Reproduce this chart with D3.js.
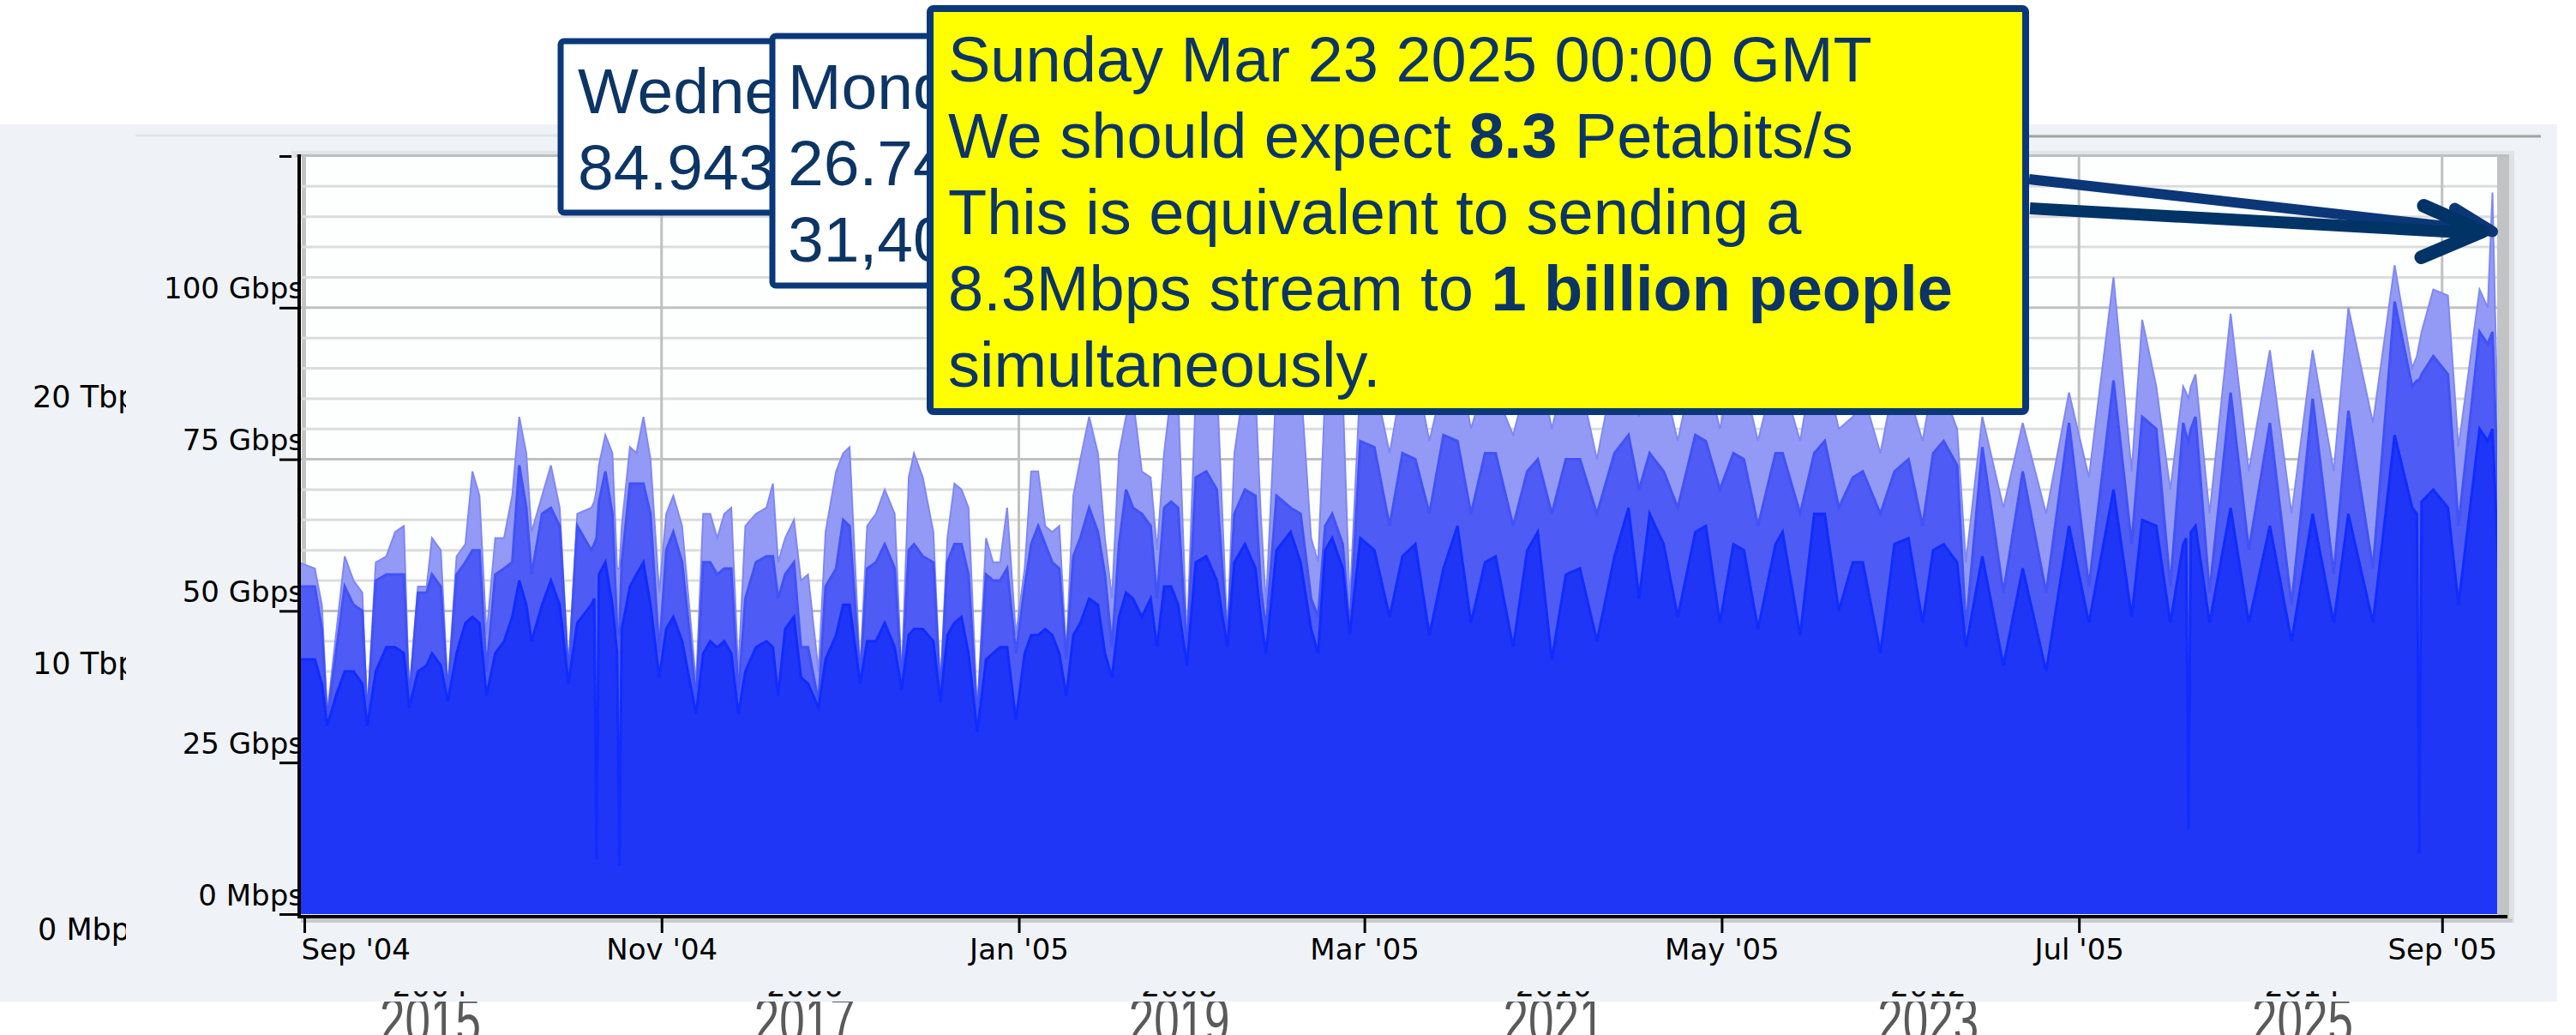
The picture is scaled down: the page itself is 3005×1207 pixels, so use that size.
<!DOCTYPE html>
<html>
<head>
<meta charset="utf-8">
<script src="https://cdn.jsdelivr.net/npm/d3@7"></script>
<style>
  html, body { margin: 0; padding: 0; background: #fff; }
  svg { display: block; }
</style>
</head>
<body>
<div id="main"></div>
<script>
// ======================= data =======================
// sample times, in days after 1 Sep 2004 00:00 GMT
const dayOffsets = [
  -1, 1.8, 3.0, 3.9, 5.4, 6.9, 8.4, 9.9, 10.75, 12.2,
  14.0, 15.5, 17.0, 17.9, 19.4, 20.9, 21.8, 23.3, 24.5, 26.0,
  27.5, 28.7, 29.9, 31.1, 32.6, 34.1, 35.5, 36.7, 37.9, 38.8,
  40.6, 42.1, 43.6, 45.1, 46.6, 49.0, 49.5, 49.9, 50.3, 51.4,
  52.6, 53.4, 53.8, 54.2, 55.6, 56.7, 57.9, 59.1, 60.6, 61.8,
  63.0, 64.5, 65.7, 66.9, 68.1, 69.3, 70.5, 71.7, 72.9, 74.1,
  75.3, 77.1, 78.9, 80.0, 80.9, 82.1, 83.6, 84.8, 86.0, 87.8,
  89.0, 90.8, 92.0, 93.1, 94.9, 96.1, 97.6, 99.1, 100.8, 102.0,
  103.2, 104.1, 105.6, 107.4, 108.6, 109.8, 111.0, 112.2, 113.4, 114.9,
  116.4, 117.6, 118.8, 120.0, 121.5, 123.0, 124.1, 125.3, 126.5, 127.7,
  128.9, 130.1, 131.3, 132.5, 134.0, 135.5, 136.7, 137.9, 139.1, 140.3,
  141.5, 143.0, 144.5, 145.6, 146.8, 148.0, 149.2, 150.7, 152.2, 154.0,
  155.8, 157.6, 158.8, 160.6, 162.4, 163.3, 164.2, 166.0, 168.4, 170.1,
  171.9, 173.1, 174.3, 175.5, 177.3, 178.5, 180.3, 182.7, 185.3, 187.5,
  189.7, 192.1, 194.5, 196.9, 199.2, 201.6, 203.4, 206.4, 208.8, 210.6,
  213.0, 215.4, 217.8, 220.7, 223.7, 226.1, 227.9, 229.7, 232.1, 234.5,
  237.5, 239.3, 241.7, 244.0, 245.8, 248.2, 251.2, 252.4, 255.4, 257.8,
  259.6, 262.0, 264.4, 266.1, 269.1, 271.5, 273.9, 276.3, 278.1, 279.9,
  282.2, 283.7, 286.5, 290.1, 293.4, 297.4, 301.3, 304.7, 308.9, 312.0,
  313.8, 316.2, 318.6, 320.8, 321.3, 321.7, 322.1, 322.9, 325.3, 328.9,
  332.0, 335.6, 339.3, 342.9, 346.5, 349.0, 353.2, 356.9, 359.9, 360.7,
  361.1, 361.5, 363.5, 366.0, 367.8, 371.4, 372.8, 373.6, 374.6
];
// Gbps of each stacked layer (bottom, middle, top)
const baseGbps = [
  42, 42, 38, 31, 36, 40, 40, 38, 31, 40,
  44, 44, 43, 34, 40, 41, 43, 41, 35, 43,
  48, 49, 48, 36, 43, 45, 49, 55, 51, 45,
  51, 55, 51, 38, 48, 51, 52, 9, 56, 58,
  51, 43, 8, 47, 54, 56, 58, 51, 39, 47,
  49, 45, 39, 33, 43, 45, 44, 45, 43, 33,
  40, 44, 45, 44, 36, 47, 49, 39, 38, 34,
  42, 46, 51, 51, 38, 45, 45, 48, 44, 37,
  46, 47, 47, 45, 35, 46, 48, 49, 43, 30,
  42, 43, 44, 44, 32, 43, 46, 46, 47, 46,
  43, 36, 46, 48, 52, 51, 43, 39, 49, 53,
  52, 49, 52, 44, 54, 54, 51, 41, 58, 59,
  55, 44, 58, 61, 57, 49, 43, 60, 63, 58,
  47, 43, 60, 62, 57, 46, 62, 60, 49, 59,
  61, 46, 57, 64, 48, 58, 59, 44, 60, 63,
  42, 56, 57, 45, 59, 67, 52, 66, 61, 49,
  63, 64, 48, 61, 60, 47, 61, 63, 46, 66,
  66, 50, 58, 58, 43, 61, 62, 48, 60, 61,
  58, 44, 59, 41, 57, 40, 64, 48, 70, 49,
  65, 64, 48, 61, 62, 14, 63, 64, 48, 67,
  48, 64, 45, 66, 48, 66, 48, 79, 67, 66,
  10, 68, 70, 67, 51, 80, 78, 80, 57
];
const midGbps = [
  12, 12, 9, 1, 7, 14, 11, 12, 1, 15,
  12, 12, 13, 1, 13, 12, 13, 13, 1, 13,
  10, 11, 12, 4, 13, 12, 9, 19, 16, 11,
  15, 12, 13, 1, 16, 9, 9, 53, 12, 15,
  15, 4, 38, 11, 17, 15, 13, 15, 4, 13,
  14, 13, 8, 2, 15, 13, 12, 12, 14, 3,
  12, 14, 14, 15, 16, 9, 9, 5, 6, 1,
  12, 11, 14, 13, 1, 12, 13, 13, 13, 1,
  14, 14, 12, 13, 1, 12, 13, 12, 13, 2,
  14, 12, 11, 13, 11, 11, 15, 18, 14, 12,
  14, 6, 13, 14, 15, 12, 13, 5, 12, 17,
  15, 17, 12, 8, 13, 14, 16, 2, 14, 14,
  15, 1, 8, 9, 12, 5, 4, 9, 4, 8,
  5, 6, 4, 4, 4, 1, 16, 17, 15, 17,
  14, 20, 22, 14, 18, 18, 17, 20, 13, 12,
  24, 19, 18, 21, 17, 12, 18, 10, 12, 18,
  16, 14, 22, 15, 15, 17, 15, 13, 20, 10,
  12, 17, 14, 15, 23, 12, 13, 16, 16, 17,
  16, 3, 18, 12, 16, 13, 17, 6, 18, 12,
  17, 16, 6, 20, 17, 64, 17, 18, 5, 19,
  12, 17, 6, 19, 8, 17, 9, 22, 20, 22,
  78, 21, 22, 22, 13, 16, 16, 16, 11
];
const topGbps = [
  4, 3, 4, 1, 3, 5, 4, 3, 1, 3,
  3, 7, 8, 1, 1, 1, 6, 6, 1, 3,
  3, 13, 9, 6, 6, 5, 11, 8, 9, 7,
  3, 7, 3, 1, 2, 7, 7, 8, 6, 6,
  10, 10, 11, 6, 6, 5, 11, 9, 10, 6,
  6, 6, 4, 3, 8, 8, 6, 9, 10, 4,
  12, 8, 8, 12, 6, 6, 7, 11, 12, 5,
  9, 16, 11, 13, 1, 7, 8, 9, 9, 1,
  12, 15, 13, 5, 1, 4, 10, 9, 11, 1,
  6, 3, 3, 10, 3, 3, 12, 9, 3, 5,
  7, 1, 10, 13, 15, 13, 6, 8, 15, 12,
  18, 7, 8, 8, 9, 18, 18, 2, 14, 17,
  18, 1, 10, 18, 17, 12, 4, 19, 23, 22,
  10, 9, 22, 24, 25, 4, 10, 11, 12, 12,
  15, 12, 9, 14, 14, 12, 10, 15, 15, 17,
  14, 15, 13, 9, 14, 16, 12, 17, 15, 11,
  13, 12, 10, 14, 13, 14, 14, 12, 12, 16,
  12, 13, 10, 13, 10, 15, 11, 14, 12, 8,
  6, 11, 5, 14, 8, 13, 5, 18, 17, 12,
  16, 7, 16, 6, 7, 7, 7, 7, 13, 13,
  13, 12, 15, 8, 17, 17, 24, 6, 3, 4,
  6, 7, 11, 13, 13, 7, 6, 23, 8
];

// axis ticks
const yTicks = [0, 25, 50, 75, 100, 125];
const yTickLabels = ['0 Mbps', '25 Gbps', '50 Gbps', '75 Gbps', '100 Gbps', ''];
const backTicks = [0, 10, 20];
const backTickLabels = ['0 Mbps', '10 Tbps', '20 Tbps'];
const overlayYears = [2015, 2017, 2019, 2021, 2023, 2025];
const hiddenYears = [2004, 2006, 2008, 2010, 2012, 2014];

// tooltip texts
const tipWed = ['Wednesday', '84.943'];
const tipMon = ['Monday', '26.74', '31,40'];
const calloutLines = [
  [{t: 'Sunday Mar 23 2025 00:00 GMT'}],
  [{t: 'We should expect '}, {t: '8.3', b: true}, {t: ' Petabits/s'}],
  [{t: 'This is equivalent to sending a'}],
  [{t: '8.3Mbps stream to '}, {t: '1 billion people', b: true}],
  [{t: 'simultaneously.'}]
];

// ======================= styles =======================
const W = 3005, H = 1207;
const tickFont = "'DejaVu Sans', Verdana, sans-serif";
const tipFont = "'Liberation Sans', Arial, Helvetica, sans-serif";
const navy = '#0b387a';
const navyText = '#0c3566';
const layerKeys = ['base', 'mid', 'top'];
const layerFill = {base: '#1f36f6', mid: '#4e5cf5', top: '#939af5'};
const layerLine = {base: '#112cff', mid: '#4152f8', top: '#7f87f6'};
const plot = {left: 351, right: 2913, top: 182, bottom: 1066};
const panelBottom = 1168;

const svg = d3.select('#main').append('svg')
  .attr('width', W).attr('height', H);
const defs = svg.append('defs');

// ======================= scales =======================
const t0 = Date.UTC(2004, 8, 1);
const dayMs = 864e5;
const x = d3.scaleUtc()
  .domain([new Date(t0 - 0.585 * dayMs), new Date(t0 + 374.4 * dayMs)])
  .range([plot.left, plot.right]);
const y = d3.scaleLinear().domain([0, 125]).range([plot.bottom, plot.top]);
const backY = d3.scaleLinear().domain([0, 20]).range([1096, 475]);
const yearX = d3.scaleLinear().domain([2015, 2025]).range([502, 2686]);

const rows = dayOffsets.map((d, i) => ({
  date: new Date(t0 + d * dayMs),
  base: baseGbps[i], mid: midGbps[i], top: topGbps[i]
}));
const series = d3.stack().keys(layerKeys)(rows);

// ============== background pieces (older chart behind) ==============
// big grey years, stretched, cut by the panel and the page edge
svg.append('g').selectAll('text').data(overlayYears).join('text')
  .attr('transform', d => `translate(${yearX(d)},1216) scale(1,1.45)`)
  .attr('text-anchor', 'middle')
  .attr('font-family', tipFont).attr('font-size', 53)
  .attr('fill', '#5a5a5a')
  .text(d => d);

// light panel
svg.append('rect')
  .attr('x', 0).attr('y', 145).attr('width', 2983).attr('height', panelBottom - 145)
  .attr('fill', '#eff2f7');
svg.append('line')
  .attr('x1', 158).attr('x2', 2964).attr('y1', 158).attr('y2', 158)
  .attr('stroke', '#e1e4e9').attr('stroke-width', 3);
svg.append('line')
  .attr('x1', 2367).attr('x2', 2964).attr('y1', 159).attr('y2', 159)
  .attr('stroke', '#a3a3a3').attr('stroke-width', 3);

// cut-off year labels of the chart behind
defs.append('clipPath').attr('id', 'fragClip')
  .append('rect').attr('x', 0).attr('y', 1156).attr('width', W).attr('height', panelBottom - 1156);
svg.append('g').attr('clip-path', 'url(#fragClip)')
  .selectAll('text').data(hiddenYears).join('text')
  .attr('x', d => yearX(d + 11)).attr('y', 1162)
  .attr('text-anchor', 'middle')
  .attr('font-family', tickFont).attr('font-size', 35)
  .attr('fill', '#111')
  .text(d => d);

// cut-off y labels of the chart behind
defs.append('clipPath').attr('id', 'backClip')
  .append('rect').attr('x', 0).attr('y', 0).attr('width', 147).attr('height', H);
svg.append('g').attr('clip-path', 'url(#backClip)')
  .selectAll('text').data(backTicks).join('text')
  .attr('x', d => d === 0 ? 44 : 38).attr('y', d => backY(d))
  .attr('font-family', tickFont).attr('font-size', 35)
  .attr('fill', '#000')
  .text((d, i) => backTickLabels[i]);

// ======================= plot frame =======================
// y axis ticks and labels (labels run under the axis line)
const yAxis = d3.axisLeft(y).tickValues(yTicks).tickSize(23).tickSizeOuter(0)
  .tickFormat((d, i) => yTickLabels[i]);
svg.append('g')
  .attr('transform', 'translate(349,0)')
  .call(yAxis)
  .call(g => g.select('.domain').remove())
  .call(g => g.selectAll('.tick line').attr('stroke', '#000').attr('stroke-width', 3))
  .call(g => g.selectAll('.tick text')
    .attr('x', 5).attr('dy', -11)
    .attr('font-family', tickFont).attr('font-size', 34).attr('fill', '#000'));

// shadow above and right of the plot
svg.append('rect')
  .attr('x', 340).attr('y', 176).attr('width', 2593).attr('height', 8)
  .attr('fill', '#e3e4e6');
svg.append('rect')
  .attr('x', 2913).attr('y', 180).attr('width', 20).attr('height', 896)
  .attr('fill', '#dfe1e4');
svg.append('rect')
  .attr('x', 2913).attr('y', 180).attr('width', 14).attr('height', 892)
  .attr('fill', '#c1c3c5');
svg.append('rect')
  .attr('x', plot.left).attr('y', plot.top).attr('width', plot.right - plot.left)
  .attr('height', plot.bottom - plot.top)
  .attr('fill', '#fdfefe');
svg.append('line')
  .attr('x1', 345).attr('x2', 2927).attr('y1', 181.5).attr('y2', 181.5)
  .attr('stroke', '#bfbfbf').attr('stroke-width', 3);
svg.append('line')
  .attr('x1', 354.5).attr('x2', 354.5).attr('y1', plot.top).attr('y2', plot.bottom)
  .attr('stroke', '#c4c4c4').attr('stroke-width', 5);

// grid
const minorVals = d3.range(5, 125, 5).filter(v => v % 25 !== 0);
const majorVals = yTicks.filter(v => v > 0 && v < 125);
const monthTicks = x.ticks(d3.utcMonth.every(2));
const grid = svg.append('g');
grid.selectAll('line.minor').data(minorVals).join('line')
  .attr('class', 'minor')
  .attr('x1', plot.left).attr('x2', plot.right)
  .attr('y1', d => y(d)).attr('y2', d => y(d))
  .attr('stroke', '#dcdcdc').attr('stroke-width', 3);
grid.selectAll('line.major').data(majorVals).join('line')
  .attr('class', 'major')
  .attr('x1', plot.left).attr('x2', plot.right)
  .attr('y1', d => y(d)).attr('y2', d => y(d))
  .attr('stroke', '#c0c0c0').attr('stroke-width', 3);
grid.selectAll('line.vert').data(monthTicks.slice(1)).join('line')
  .attr('class', 'vert')
  .attr('x1', d => x(d)).attr('x2', d => x(d))
  .attr('y1', plot.top).attr('y2', plot.bottom)
  .attr('stroke', '#c0c0c0').attr('stroke-width', 3);

// ======================= stacked areas =======================
defs.append('clipPath').attr('id', 'plotClip')
  .append('rect').attr('x', plot.left).attr('y', plot.top)
  .attr('width', plot.right - plot.left).attr('height', plot.bottom - plot.top);

const area = d3.area()
  .x(d => x(d.data.date))
  .y0(d => y(d[0]))
  .y1(d => y(d[1]));
const edge = d3.line()
  .x(d => x(d.data.date))
  .y(d => y(d[1]));

const dataG = svg.append('g').attr('clip-path', 'url(#plotClip)');
dataG.selectAll('path.area').data(series).join('path')
  .attr('class', 'area')
  .attr('d', area)
  .attr('fill', s => layerFill[s.key]);
dataG.selectAll('path.edge').data(series.slice().reverse()).join('path')
  .attr('class', 'edge')
  .attr('d', edge)
  .attr('fill', 'none')
  .attr('stroke', s => layerLine[s.key])
  .attr('stroke-width', s => s.key === 'top' ? 2 : 3)
  .attr('stroke-linejoin', 'miter');

// ======================= axes lines =======================
svg.append('rect')
  .attr('x', 351).attr('y', 1071).attr('width', 2580).attr('height', 5)
  .attr('fill', '#c9cacc');
svg.append('line')
  .attr('x1', 347).attr('x2', 2925).attr('y1', 1069).attr('y2', 1069)
  .attr('stroke', '#000').attr('stroke-width', 4);
svg.append('line')
  .attr('x1', 349).attr('x2', 349).attr('y1', 180).attr('y2', 1071)
  .attr('stroke', '#000').attr('stroke-width', 4);

const xAxis = d3.axisBottom(x).tickValues(monthTicks)
  .tickFormat(d3.utcFormat("%b '%y"))
  .tickSize(19).tickSizeOuter(0).tickPadding(7);
svg.append('g')
  .attr('transform', 'translate(0,1069)')
  .call(xAxis)
  .call(g => g.select('.domain').remove())
  .call(g => g.selectAll('.tick line').attr('stroke', '#000').attr('stroke-width', 3))
  .call(g => g.selectAll('.tick text')
    .attr('font-family', tickFont).attr('font-size', 34).attr('fill', '#000'))
  .call(g => g.select('.tick text').attr('text-anchor', 'start').attr('x', -4));

// ======================= tooltips =======================
function tipBox(x0, y0, w, h, fill, sw) {
  svg.append('rect')
    .attr('x', x0).attr('y', y0).attr('width', w).attr('height', h)
    .attr('rx', 4)
    .attr('fill', fill).attr('stroke', navy).attr('stroke-width', sw);
}
function tipText(x0, baselines, lines) {
  svg.append('g').selectAll('text').data(lines).join('text')
    .attr('x', x0).attr('y', (d, i) => baselines[i])
    .attr('font-family', tipFont).attr('font-size', 75)
    .attr('fill', navyText)
    .text(d => d);
}

tipBox(654, 48, 420, 200, '#fff', 7);
tipText(674, [132, 221], tipWed);

tipBox(901, 42, 400, 291, '#fff', 7);
tipText(919, [127, 216, 305], tipMon);

tipBox(1085, 10, 1278, 470, '#ffff00', 8);
const callout = svg.append('g');
calloutLines.forEach((parts, i) => {
  const t = callout.append('text')
    .attr('x', 1106).attr('y', 95 + i * 89)
    .attr('font-family', tipFont).attr('font-size', 74)
    .attr('fill', navyText);
  parts.forEach(p => {
    t.append('tspan')
      .attr('font-weight', p.b ? 'bold' : 'normal')
      .text(p.t);
  });
});

// arrows to the final spike
const tipX = x(new Date(t0 + 373.6 * dayMs));
const arrows = svg.append('g').attr('fill', 'none').attr('stroke-linecap', 'round')
  .attr('stroke-linejoin', 'round');
arrows.append('path')
  .attr('d', `M2367,209 L${tipX},270`)
  .attr('stroke', '#0b3779').attr('stroke-width', 12).attr('stroke-linecap', 'butt');
arrows.append('path')
  .attr('d', `M${tipX - 44},243 L${tipX},270`)
  .attr('stroke', '#0b3779').attr('stroke-width', 13);
arrows.append('path')
  .attr('d', `M2368,243 L${tipX - 18},272`)
  .attr('stroke', '#003366').attr('stroke-width', 14).attr('stroke-linecap', 'butt');
arrows.append('path')
  .attr('d', `M${tipX - 80},240 L${tipX - 12},270 L${tipX - 83},300`)
  .attr('stroke', '#003366').attr('stroke-width', 16);
</script>
</body>
</html>
